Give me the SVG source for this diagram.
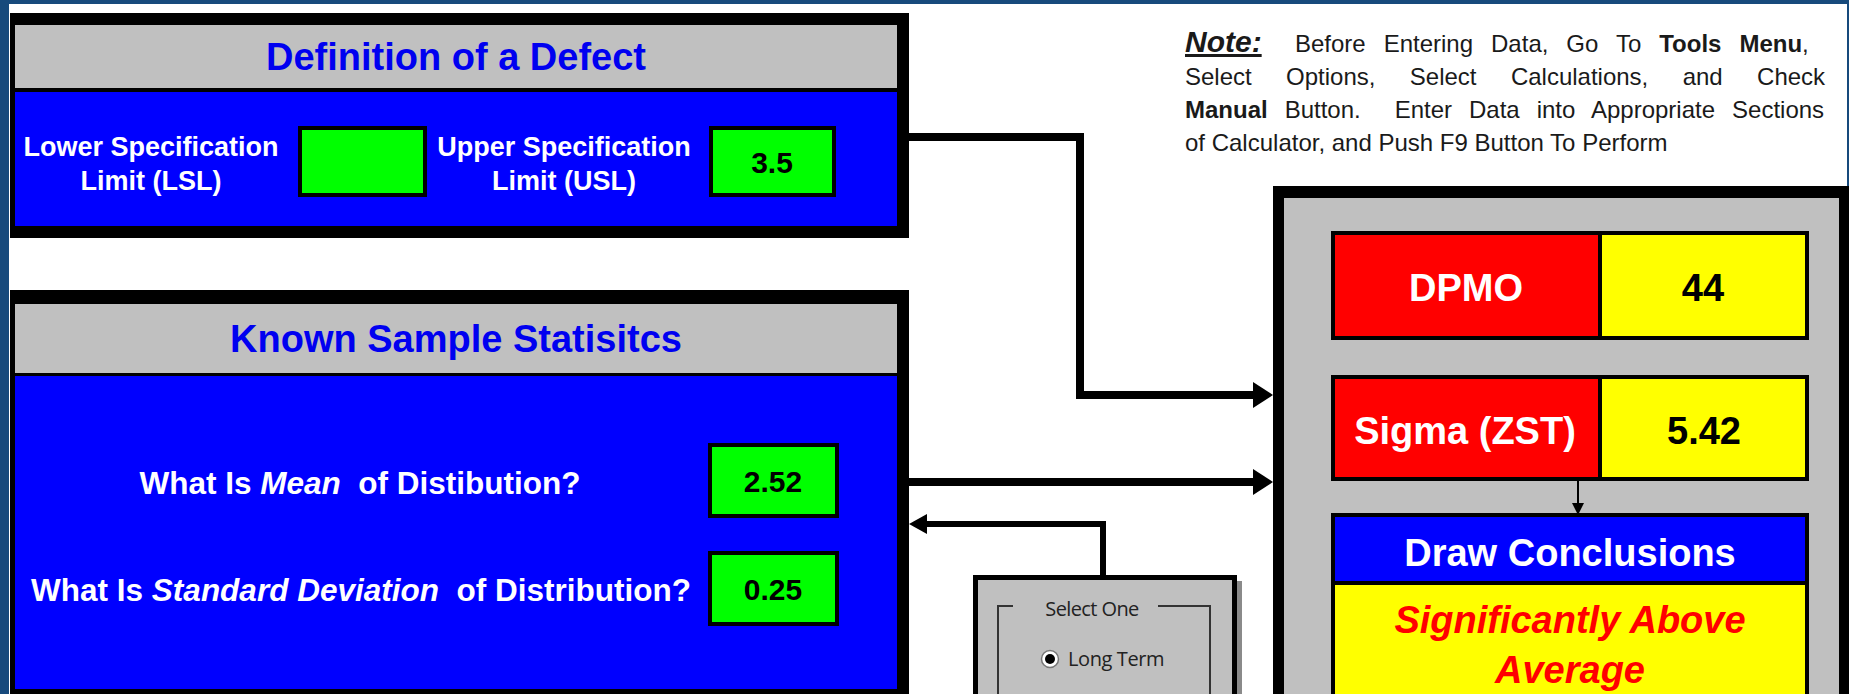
<svg xmlns="http://www.w3.org/2000/svg" width="1849" height="694" viewBox="0 0 1849 694">
<style>
.b{font-family:"Liberation Sans",Arial,sans-serif;font-weight:bold}
.title{font-size:38px;fill:#0000f0;text-anchor:middle}
.lbl{font-size:27px;fill:#fff;text-anchor:middle}
.q{font-size:31.5px;fill:#fff;text-anchor:middle}
.val{font-size:30px;fill:#000;text-anchor:middle}
.big{font-size:38px;text-anchor:middle}
.note{font-family:"Liberation Sans",Arial,sans-serif;font-size:24px;fill:#1a1a1a}
.win{font-family:"Open Sans","DejaVu Sans",sans-serif;font-size:20px;fill:#222}
.green{fill:#00ff00;stroke:#000;stroke-width:4}
.conn{fill:none;stroke:#000;stroke-linejoin:miter}
</style>
<defs>
<marker id="ah" markerUnits="userSpaceOnUse" markerWidth="20" markerHeight="26" refX="0" refY="13" orient="auto">
<path d="M0,0 L20,13 L0,26 Z" fill="#000"/>
</marker>
<marker id="ahm" markerUnits="userSpaceOnUse" markerWidth="18" markerHeight="20" refX="0" refY="10" orient="auto">
<path d="M0,0 L18,10 L0,20 Z" fill="#000"/>
</marker>
<marker id="ahs" markerUnits="userSpaceOnUse" markerWidth="12" markerHeight="12" refX="0" refY="6" orient="auto">
<path d="M0,0 L12,6 L0,12 Z" fill="#000"/>
</marker>
</defs>

<g id="frame">
<rect x="0" y="0" width="1849" height="694" fill="#174a7c"/>
<rect x="9" y="4" width="1838" height="690" fill="#fff"/>
</g>

<g id="note">
<text class="note" x="1185" y="52"><tspan font-size="30" font-weight="bold" font-style="italic" text-decoration="underline">Note:</tspan><tspan x="1295" word-spacing="11.3">Before Entering Data, Go To <tspan font-weight="bold">Tools Menu</tspan>,</tspan></text>
<text class="note" x="1185" y="85" word-spacing="27.7">Select Options, Select Calculations, and Check</text>
<text class="note" x="1185" y="118" xml:space="preserve" word-spacing="10.3"><tspan font-weight="bold">Manual</tspan> Button.  Enter Data into Appropriate Sections</text>
<text class="note" x="1185" y="151">of Calculator, and Push F9 Button To Perform</text>
</g>

<g id="defect-box">
<rect x="10" y="13" width="899" height="225" fill="#000"/>
<rect x="15" y="25" width="882" height="63" fill="#c0c0c0"/>
<rect x="15" y="92" width="882" height="134" fill="#0000ff"/>
<text class="b title" x="456" y="70">Definition of a Defect</text>
<text class="b lbl" x="151" y="156">Lower Specification</text>
<text class="b lbl" x="151" y="190">Limit (LSL)</text>
<rect class="green" x="300" y="128" width="125" height="67"/>
<text class="b lbl" x="564" y="156">Upper Specification</text>
<text class="b lbl" x="564" y="190">Limit (USL)</text>
<rect class="green" x="711" y="128" width="123" height="67"/>
<text class="b val" x="772" y="173">3.5</text>
</g>

<g id="sample-box">
<rect x="10" y="290" width="899" height="420" fill="#000"/>
<rect x="15" y="304" width="882" height="69" fill="#c0c0c0"/>
<rect x="15" y="376" width="882" height="313" fill="#0000ff"/>
<text class="b title" x="456" y="352">Known Sample Statisitcs</text>
<text class="b q" x="360" y="494" xml:space="preserve">What Is <tspan font-style="italic">Mean</tspan>  of Distibution?</text>
<rect class="green" x="710" y="445" width="127" height="71"/>
<text class="b val" x="773" y="492">2.52</text>
<text class="b q" x="361" y="601" xml:space="preserve">What Is <tspan font-style="italic">Standard Deviation</tspan>  of Distribution?</text>
<rect class="green" x="710" y="553" width="127" height="71"/>
<text class="b val" x="773" y="600">0.25</text>
</g>

<g id="select-box">
<rect x="1237" y="581" width="5" height="120" fill="#8a8a8a"/>
<rect x="975.5" y="577.5" width="259" height="130" fill="#c0c0c0" stroke="#000" stroke-width="5"/>
<path d="M1013,606 H998 V700 M1158,606 H1210 V700" fill="none" stroke="#333" stroke-width="2"/>
<text class="win" x="1092" y="616" text-anchor="middle" letter-spacing="-0.6">Select One</text>
<circle cx="1050" cy="659" r="8.5" fill="#fff" stroke="#777" stroke-width="1.5"/>
<circle cx="1050" cy="659" r="5" fill="#000"/>
<text class="win" x="1068" y="666" letter-spacing="-0.4">Long Term</text>
</g>

<g id="results-box">
<rect x="1273" y="186" width="576" height="520" fill="#000"/>
<rect x="1284" y="198" width="555" height="510" fill="#c0c0c0"/>
<g id="dpmo">
<rect x="1333" y="233" width="474" height="105" fill="#ff0000" stroke="#000" stroke-width="4"/>
<rect x="1600" y="233" width="207" height="105" fill="#ffff00" stroke="#000" stroke-width="4"/>
<text class="b big" x="1466" y="301" fill="#fff">DPMO</text>
<text class="b big" x="1703" y="301" fill="#000">44</text>
</g>
<g id="sigma">
<rect x="1333" y="377" width="474" height="102" fill="#ff0000" stroke="#000" stroke-width="4"/>
<rect x="1600" y="377" width="207" height="102" fill="#ffff00" stroke="#000" stroke-width="4"/>
<text class="b big" x="1465" y="444" fill="#fff">Sigma (ZST)</text>
<text class="b big" x="1704" y="444" fill="#000" font-size="41">5.42</text>
</g>
<g id="conclusions">
<rect x="1333" y="515" width="474" height="200" fill="#ffff00" stroke="#000" stroke-width="4"/>
<rect x="1333" y="515" width="474" height="68" fill="#0000ff" stroke="#000" stroke-width="4"/>
<text class="b big" x="1570" y="566" fill="#fff" font-size="39">Draw Conclusions</text>
<text class="b big" x="1570" y="633" fill="#ff0000" font-style="italic" font-size="39">Significantly Above</text>
<text class="b big" x="1570" y="683" fill="#ff0000" font-style="italic" font-size="39">Average</text>
</g>
</g>

<g id="connectors">
<path class="conn" stroke-width="8" d="M909,137 H1080 V395 H1253" marker-end="url(#ah)"/>
<path class="conn" stroke-width="8" d="M909,482 H1253" marker-end="url(#ah)"/>
<path class="conn" stroke-width="6" d="M1103,575 V524 H927" marker-end="url(#ahm)"/>
<path class="conn" stroke-width="2" d="M1578,479 V503" marker-end="url(#ahs)"/>
</g>
</svg>
